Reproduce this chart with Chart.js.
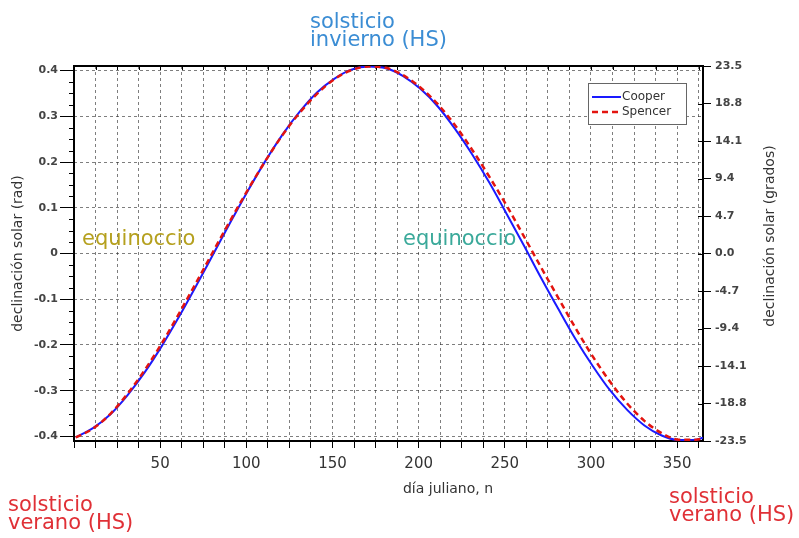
<!DOCTYPE html>
<html>
<head>
<meta charset="utf-8">
<script src="https://cdn.jsdelivr.net/npm/chart.js@4.4.0/dist/chart.umd.min.js"></script>
<style>
  html, body { margin: 0; padding: 0; background: #fff; }
  #chart { display: block; }
</style>
</head>
<body>
<canvas id="chart" width="799" height="538"></canvas>
<script>
// día juliano (n) and declinación (rad)
const days = [1, 11, 21, 31, 41, 51, 61, 71, 81, 91, 101, 111, 121, 131, 141, 151, 161, 171, 181,
    191, 201, 211, 221, 231, 241, 251, 261, 271, 281, 291, 301, 311, 321, 331, 341, 351, 361, 365];
const cooper = [-0.402, -0.382, -0.352, -0.310, -0.260, -0.202, -0.138, -0.070, 0.000, 0.070,
    0.138, 0.202, 0.260, 0.310, 0.352, 0.382, 0.402, 0.409, 0.405, 0.388, 0.360, 0.322, 0.273,
    0.217, 0.155, 0.087, 0.018, -0.053, -0.121, -0.187, -0.246, -0.299, -0.342, -0.376, -0.398,
    -0.408, -0.407, -0.403];
const spencer = [-0.402, -0.383, -0.351, -0.307, -0.255, -0.196, -0.131, -0.063, 0.006, 0.074,
    0.140, 0.202, 0.259, 0.308, 0.349, 0.381, 0.401, 0.409, 0.406, 0.390, 0.363, 0.327, 0.281,
    0.227, 0.168, 0.105, 0.038, -0.030, -0.097, -0.163, -0.225, -0.280, -0.328, -0.366, -0.393,
    -0.407, -0.407, -0.404];

const dayLabels = [50, 100, 150, 200, 250, 300, 350];
const radTicks = [-0.4, -0.3, -0.2, -0.1, 0, 0.1, 0.2, 0.3, 0.4];
const degTicks = [-23.5, -18.8, -14.1, -9.4, -4.7, 0, 4.7, 9.4, 14.1, 18.8, 23.5];

const seriesNames = ['Cooper', 'Spencer'];
const notes = [
    { lines: ['solsticio', 'invierno (HS)'], x: 310, y: 28, color: '#3b8dd4' },
    { lines: ['solsticio', 'verano (HS)'], x: 8, y: 511, color: '#e03036' },
    { lines: ['solsticio', 'verano (HS)'], x: 669, y: 503, color: '#e03036' },
    { lines: ['equinoccio'], x: 82, y: 245, color: '#b5a01e' },
    { lines: ['equinoccio'], x: 403, y: 245, color: '#3aa99a' },
];

const FONT = 'DejaVu Sans';

const extras = {
    id: 'extras',
    beforeDatasetsDraw(chart) {
        const { ctx, chartArea: a } = chart;
        ctx.save();
        ctx.strokeStyle = '#000';
        ctx.lineWidth = 2;
        ctx.strokeRect(a.left, a.top, a.right - a.left, a.bottom - a.top);

        // minor ticks on the left axis
        const y = chart.scales.y;
        ctx.lineWidth = 1;
        ctx.beginPath();
        for (let v = -0.4; v < 0.4; v += 0.1) {
            for (let k = 1; k < 4; k++) {
                const py = Math.round(y.getPixelForValue(v + k * 0.025)) + 0.5;
                ctx.moveTo(a.left - 5, py);
                ctx.lineTo(a.left, py);
            }
        }
        // small ticks on top and right edges
        chart.scales.x.ticks.forEach(t => {
            const px = Math.round(chart.scales.x.getPixelForValue(t.value)) + 0.5;
            ctx.moveTo(px, a.top);
            ctx.lineTo(px, a.top + 4);
        });
        chart.scales.y2.ticks.forEach(t => {
            const py = Math.round(chart.scales.y2.getPixelForValue(t.value)) + 0.5;
            ctx.moveTo(a.right - 5, py);
            ctx.lineTo(a.right, py);
        });
        ctx.stroke();
        ctx.restore();
    },
    afterDraw(chart) {
        const { ctx } = chart;
        ctx.save();

        // legend
        const lx = 588, ly = 83, lw = 98, lh = 41;
        ctx.fillStyle = '#fff';
        ctx.fillRect(lx, ly, lw, lh);
        ctx.strokeStyle = '#666';
        ctx.lineWidth = 1;
        ctx.strokeRect(lx + 0.5, ly + 0.5, lw, lh);
        chart.data.datasets.forEach((ds, i) => {
            const yy = ly + 14 + i * 15;
            ctx.strokeStyle = ds.borderColor;
            ctx.lineWidth = ds.borderWidth;
            ctx.setLineDash(ds.borderDash || []);
            ctx.beginPath();
            ctx.moveTo(lx + 4, yy);
            ctx.lineTo(lx + 33, yy);
            ctx.stroke();
            ctx.setLineDash([]);
            ctx.fillStyle = '#333';
            ctx.font = '12px ' + FONT;
            ctx.textBaseline = 'middle';
            ctx.fillText(ds.label, lx + 34, yy);
        });

        // axis titles
        ctx.fillStyle = '#333';
        ctx.font = '14px ' + FONT;
        ctx.textBaseline = 'middle';
        ctx.textAlign = 'center';
        ctx.fillText('día juliano, n', 448, 489);
        ctx.save();
        ctx.translate(770, 236);
        ctx.rotate(-Math.PI / 2);
        ctx.fillText('declinación solar (grados)', 0, 0);
        ctx.restore();

        // annotations
        ctx.textAlign = 'left';
        ctx.textBaseline = 'alphabetic';
        ctx.font = '21px ' + FONT;
        notes.forEach(n => {
            ctx.fillStyle = n.color;
            n.lines.forEach((s, i) => ctx.fillText(s, n.x, n.y + i * 18));
        });
        ctx.restore();
    }
};

const gridColor = 'rgba(40,40,40,0.6)';

new Chart(document.getElementById('chart'), {
    type: 'line',
    data: {
        datasets: [{
            label: seriesNames[0],
            data: days.map((d, i) => ({ x: d, y: cooper[i] })),
            borderColor: '#1a1aff',
            borderWidth: 2,
            pointRadius: 0,
            cubicInterpolationMode: 'monotone',
            order: 1
        }, {
            label: seriesNames[1],
            data: days.map((d, i) => ({ x: d, y: spencer[i] })),
            borderColor: '#e3140f',
            borderWidth: 2.5,
            borderDash: [6, 4],
            pointRadius: 0,
            cubicInterpolationMode: 'monotone',
            order: 0
        }]
    },
    options: {
        responsive: false,
        animation: false,
        layout: { padding: { top: 66, left: 0, right: 0, bottom: 0 } },
        plugins: {
            legend: { display: false },
            tooltip: { enabled: false }
        },
        scales: {
            x: {
                type: 'linear',
                min: 0,
                max: 365,
                afterFit: s => { s.height = 97; },
                grid: { color: gridColor, tickLength: 7, tickColor: '#000' },
                border: { display: false, dash: [3, 3] },
                ticks: {
                    stepSize: 12.5,
                    includeBounds: false,
                    autoSkip: false,
                    maxRotation: 0,
                    padding: 7,
                    color: '#333',
                    font: { family: FONT, size: 15 },
                    callback: v => dayLabels.includes(v) ? String(v) : ''
                }
            },
            y: {
                position: 'left',
                min: -0.41,
                max: 0.41,
                afterFit: s => { s.width = 74; },
                afterBuildTicks: s => { s.ticks = radTicks.map(v => ({ value: v })); },
                grid: { color: gridColor, tickLength: 14, tickColor: '#000' },
                border: { display: false, dash: [3, 3] },
                ticks: {
                    padding: 2,
                    color: '#444',
                    font: { family: FONT, size: 11, weight: 'bold' },
                    callback: v => v === 0 ? '0' : String(v)
                },
                title: {
                    display: true,
                    text: 'declinación solar (rad)',
                    color: '#333',
                    font: { family: FONT, size: 14 },
                    padding: { top: 10, bottom: 0 }
                }
            },
            y2: {
                position: 'right',
                min: -23.5,
                max: 23.5,
                afterFit: s => { s.width = 96; },
                afterBuildTicks: s => { s.ticks = degTicks.map(v => ({ value: v })); },
                grid: { drawOnChartArea: false, tickLength: 8, tickColor: '#000' },
                border: { display: false },
                ticks: {
                    padding: 4,
                    color: '#444',
                    font: { family: FONT, size: 11, weight: 'bold' },
                    callback: v => v.toFixed(1)
                }
            }
        }
    },
    plugins: [extras]
});
</script>
</body>
</html>
